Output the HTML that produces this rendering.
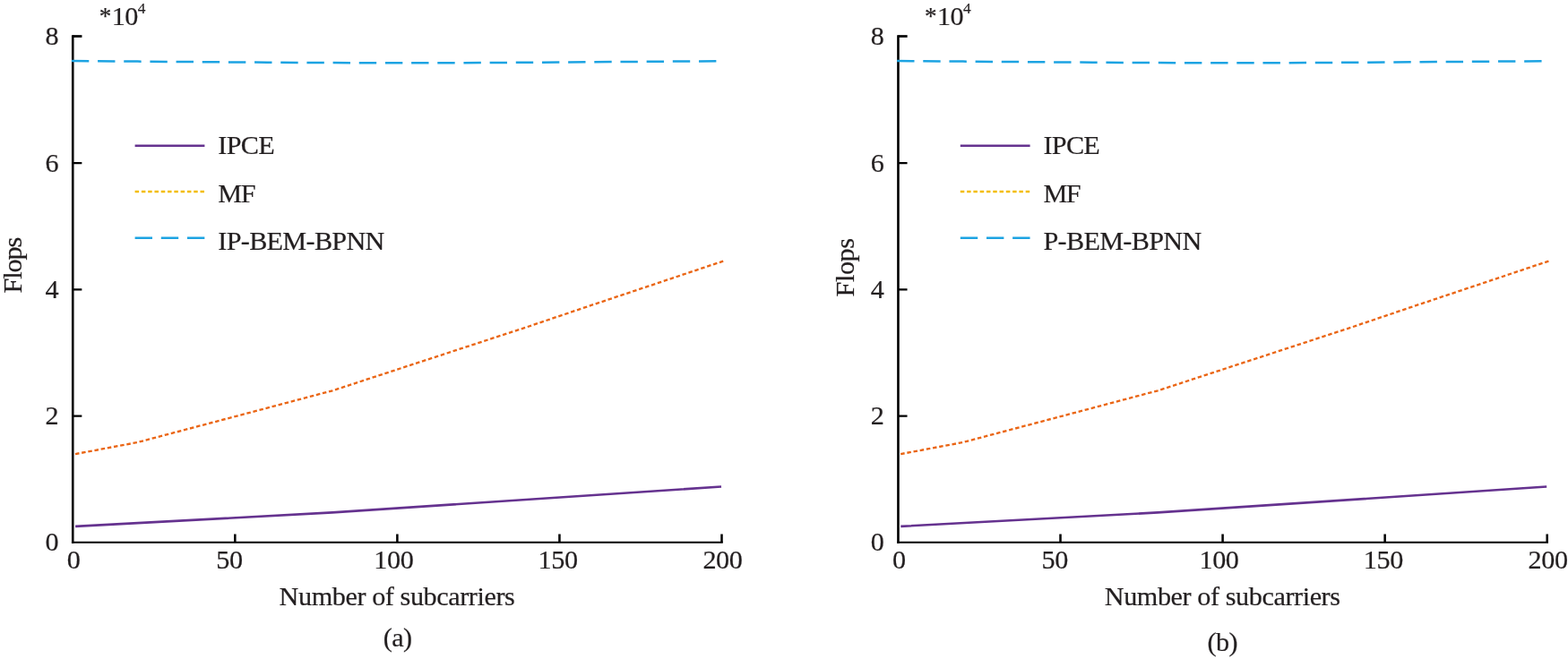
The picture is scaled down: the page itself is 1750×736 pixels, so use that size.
<!DOCTYPE html>
<html lang="en">
<head>
<meta charset="utf-8">
<title>Flops versus number of subcarriers</title>
<style>
html,body{margin:0;padding:0;background:#fff;}
body{width:1750px;height:736px;overflow:hidden;}
svg{display:block;}
text{font-family:"Liberation Serif","Times New Roman",Times,serif;font-size:30.2px;letter-spacing:-0.42px;fill:#231f20;stroke:#231f20;stroke-width:0.22px;}
.yl{text-anchor:end;}
.xl,.mid{text-anchor:middle;}
.sup{font-size:17.3px;}
.ast{font-size:27px;}
.flops{letter-spacing:-1.1px;}
.axv{fill:none;stroke:#000;stroke-width:2.6;}
.axh{fill:none;stroke:#000;stroke-width:2.1;}
.ttk{fill:none;stroke:#000;stroke-width:2.7;}
.ytk{fill:none;stroke:#000;stroke-width:2.2;}
.xtk{fill:none;stroke:#000;stroke-width:2.5;}
.c-blue{fill:none;stroke:#1ca3e2;stroke-width:2.5;stroke-dasharray:19.4 9.77;}
.c-orange{fill:none;stroke:#ea6514;stroke-width:2.35;stroke-dasharray:4.5 2.79;}
.l-yellow{fill:none;stroke:#f3bd0a;stroke-width:2.35;stroke-dasharray:4.5 2.79;}
.c-purple{fill:none;stroke:#65328f;stroke-width:2.6;}
.l-purple{fill:none;stroke:#65328f;stroke-width:2.45;}
</style>
</head>
<body>
<svg width="1750" height="736" viewBox="0 0 1750 736">
<rect width="1750" height="736" fill="#ffffff"/>
<g transform="translate(0.00,0)">
<path class="axv" d="M81.25,39.15 V606.85"/>
<path class="axh" d="M79.95,605.80 H806.80"/>
<path class="ttk" d="M81.25,40.50 h10.2"/>
<path class="ytk" d="M81.25,464.70 h10.1 M81.25,323.40 h10.1 M81.25,182.10 h10.1"/>
<path class="xtk" d="M262.31,605.70 v-9.1 M443.38,605.70 v-9.1 M624.44,605.70 v-9.1 M805.50,605.70 v-9.1"/>
<polyline class="c-blue" points="79.9,68.1 153.6,68.6 226.0,69.2 298.5,69.7 371.0,70.1 443.4,70.3 515.8,70.2 588.0,69.8 660.6,69.3 733.0,68.7 805.5,68.2"/>
<polyline class="c-orange" points="84.0,507.1 153.6,494.0 371.0,436.3 443.4,412.6 515.8,388.9 588.2,365.2 660.6,340.7 733.0,316.5 807.2,291.6"/>
<polyline class="c-purple" points="84.1,587.9 371.0,572.4 805.0,543.5"/>
<text class="yl" x="65.2" y="615.4">0</text>
<text class="yl" x="65.2" y="474.1">2</text>
<text class="yl" x="65.2" y="332.8">4</text>
<text class="yl" x="65.2" y="191.5">6</text>
<text class="yl" x="65.2" y="50.2">8</text>
<text class="xl" x="82.2" y="635.2">0</text>
<text class="xl" x="256.0" y="635.2">50</text>
<text class="xl" x="439.3" y="635.2">100</text>
<text class="xl" x="622.6" y="635.2">150</text>
<text class="xl" x="806.4" y="635.2">200</text>
<text class="lab" x="110.8" y="28.3"><tspan class="ast" dy="-1.5">*</tspan><tspan dx="0.8" dy="1.5">10</tspan><tspan class="sup" dx="-0.2" dy="-13.5">4</tspan></text>
<text class="mid flops" transform="translate(24.1,296.6) rotate(-90)">Flops</text>
<text class="mid" x="443.0" y="676.3">Number of subcarriers</text>
<text class="mid" x="443.7" y="721.8" style="letter-spacing:-0.6px">(a)</text>
<path class="l-purple" d="M150.6,162.8 H228.4"/>
<path class="l-yellow" d="M150.6,214.0 H228.4"/>
<path class="c-blue" d="M150.6,265.7 H228.4"/>
<text class="lab" x="243.3" y="172.3" style="letter-spacing:-0.7px">IPCE</text>
<text class="lab" x="243.3" y="225.6" style="letter-spacing:-1.5px">MF</text>
<text class="lab" x="243.3" y="279.3" style="letter-spacing:-0.68px">IP-BEM-BPNN</text>
</g>
<g transform="translate(921.20,0)">
<path class="axv" d="M81.25,39.15 V606.85"/>
<path class="axh" d="M79.95,605.80 H806.80"/>
<path class="ttk" d="M81.25,40.50 h10.2"/>
<path class="ytk" d="M81.25,464.70 h10.1 M81.25,323.40 h10.1 M81.25,182.10 h10.1"/>
<path class="xtk" d="M262.31,605.70 v-9.1 M443.38,605.70 v-9.1 M624.44,605.70 v-9.1 M805.50,605.70 v-9.1"/>
<polyline class="c-blue" points="79.9,68.1 153.6,68.6 226.0,69.2 298.5,69.7 371.0,70.1 443.4,70.3 515.8,70.2 588.0,69.8 660.6,69.3 733.0,68.7 805.5,68.2"/>
<polyline class="c-orange" points="84.0,507.1 153.6,494.0 371.0,436.3 443.4,412.6 515.8,388.9 588.2,365.2 660.6,340.7 733.0,316.5 807.2,291.6"/>
<polyline class="c-purple" points="84.1,587.9 371.0,572.4 805.0,543.5"/>
<text class="yl" x="65.2" y="615.4">0</text>
<text class="yl" x="65.2" y="474.1">2</text>
<text class="yl" x="65.2" y="332.8">4</text>
<text class="yl" x="65.2" y="191.5">6</text>
<text class="yl" x="65.2" y="50.2">8</text>
<text class="xl" x="82.2" y="635.2">0</text>
<text class="xl" x="256.0" y="635.2">50</text>
<text class="xl" x="439.3" y="635.2">100</text>
<text class="xl" x="622.6" y="635.2">150</text>
<text class="xl" x="806.4" y="635.2">200</text>
<text class="lab" x="110.8" y="28.3"><tspan class="ast" dy="-1.5">*</tspan><tspan dx="0.8" dy="1.5">10</tspan><tspan class="sup" dx="-0.2" dy="-13.5">4</tspan></text>
<text class="mid flopsb" transform="translate(31.5,298.9) rotate(-90)">Flops</text>
<text class="mid" x="443.0" y="676.3">Number of subcarriers</text>
<text class="mid" x="443.1" y="727.0" style="letter-spacing:-0.6px">(b)</text>
<path class="l-purple" d="M150.6,162.8 H228.4"/>
<path class="l-yellow" d="M150.6,214.0 H228.4"/>
<path class="c-blue" d="M150.6,265.7 H228.4"/>
<text class="lab" x="243.3" y="172.3" style="letter-spacing:-0.7px">IPCE</text>
<text class="lab" x="243.3" y="225.6" style="letter-spacing:-1.5px">MF</text>
<text class="lab" x="243.3" y="279.3" style="letter-spacing:-0.68px">P-BEM-BPNN</text>
</g>
</svg>
</body>
</html>
